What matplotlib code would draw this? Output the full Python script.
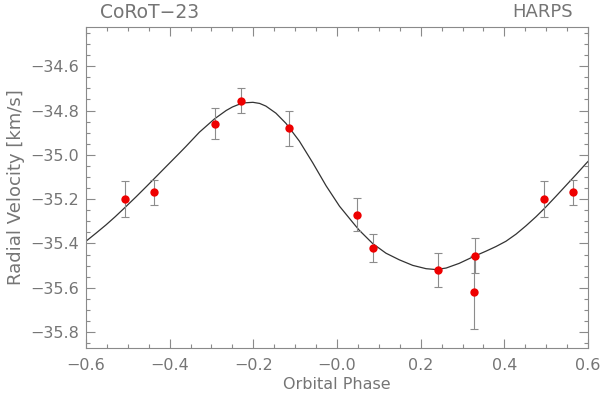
import numpy as np
import matplotlib
matplotlib.use("Agg")
import matplotlib.pyplot as plt
from matplotlib.ticker import MultipleLocator, FixedLocator, FixedFormatter

# HARPS radial velocities of CoRoT-23, phase-folded
phase = [-0.507, -0.437, -0.292, -0.230, -0.115, 0.049, 0.087, 0.242, 0.329, 0.328, 0.494, 0.563]
rv    = [-35.200, -35.170, -34.860, -34.755, -34.880, -35.270, -35.420, -35.520, -35.455, -35.620, -35.200, -35.170]
rv_err = [0.080, 0.055, 0.070, 0.055, 0.080, 0.075, 0.063, 0.075, 0.080, 0.165, 0.080, 0.055]

# orbital model curve, sampled off the figure
model_phase = [-0.600, -0.575, -0.552, -0.530, -0.507, -0.480, -0.455, -0.433, -0.409, -0.377,
               -0.361, -0.329, -0.293, -0.265, -0.250, -0.234, -0.218, -0.201, -0.185, -0.170,
               -0.146, -0.122, -0.090, -0.058, -0.026, 0.006, 0.038, 0.053, 0.085, 0.117,
               0.149, 0.181, 0.213, 0.237, 0.261, 0.292, 0.328, 0.356, 0.380, 0.404,
               0.428, 0.452, 0.476, 0.500, 0.524, 0.548, 0.572, 0.595, 0.600]
model_rv = [-35.390, -35.352, -35.316, -35.279, -35.238, -35.189, -35.142, -35.100, -35.054, -34.993,
            -34.962, -34.898, -34.838, -34.800, -34.784, -34.772, -34.765, -34.763, -34.768, -34.780,
            -34.812, -34.858, -34.938, -35.036, -35.140, -35.232, -35.306, -35.340, -35.400, -35.444,
            -35.474, -35.499, -35.514, -35.518, -35.511, -35.490, -35.458, -35.435, -35.414, -35.390,
            -35.358, -35.320, -35.279, -35.234, -35.186, -35.137, -35.088, -35.040, -35.030]

xticks = [-0.6, -0.4, -0.2, 0.0, 0.2, 0.4, 0.6]
xticklabels = ["\u22120.6", "\u22120.4", "\u22120.2", "\u22120.0", "0.2", "0.4", "0.6"]
yticks = [-34.6, -34.8, -35.0, -35.2, -35.4, -35.6, -35.8]
yticklabels = ["\u221234.6", "\u221234.8", "\u221235.0", "\u221235.2", "\u221235.4", "\u221235.6", "\u221235.8"]

TXT = "#757575"
AX = "#8a8a8a"

fig = plt.figure(figsize=(6.0, 3.94), dpi=100)
ax = fig.add_axes([86 / 600, 1 - 348 / 394, 502 / 600, 321 / 394])

ax.plot(model_phase, model_rv, color="#333333", lw=0.9, zorder=2)
ax.errorbar(phase, rv, yerr=rv_err, fmt="none", ecolor="#8c8c8c", elinewidth=0.8,
            capsize=2.6, capthick=0.8, zorder=3)
ax.plot(phase, rv, "o", color="#ee0000", ms=6, mec="none", zorder=4)

ax.set_xlim(-0.6, 0.6)
ax.set_ylim(-35.872, -34.423)

ax.xaxis.set_major_locator(FixedLocator(xticks))
ax.xaxis.set_major_formatter(FixedFormatter(xticklabels))
ax.yaxis.set_major_locator(FixedLocator(yticks))
ax.yaxis.set_major_formatter(FixedFormatter(yticklabels))
ax.xaxis.set_minor_locator(MultipleLocator(0.05))
ax.yaxis.set_minor_locator(MultipleLocator(0.05))

ax.tick_params(which="both", direction="in", top=True, right=True, color=AX, width=0.8,
               labelcolor=TXT, labelsize=11.5)
ax.tick_params(which="major", length=6.5)
ax.tick_params(which="minor", length=3.2)
ax.tick_params(axis="x", which="major", pad=7)
ax.tick_params(axis="y", which="major", pad=5)
for s in ax.spines.values():
    s.set_color(AX)
    s.set_linewidth(0.8)

ax.set_xlabel("Orbital Phase", color=TXT, fontsize=11.5, labelpad=3)
ax.set_ylabel("Radial Velocity [km/s]", color=TXT, fontsize=13, labelpad=4)

fig.text(100 / 600, 1 - 12 / 394, "CoRoT\u221223", color=TXT, fontsize=13.5, ha="left", va="center")
fig.text(573 / 600, 1 - 12 / 394, "HARPS", color=TXT, fontsize=13, ha="right", va="center")

fig.savefig("out.png", dpi=100)
